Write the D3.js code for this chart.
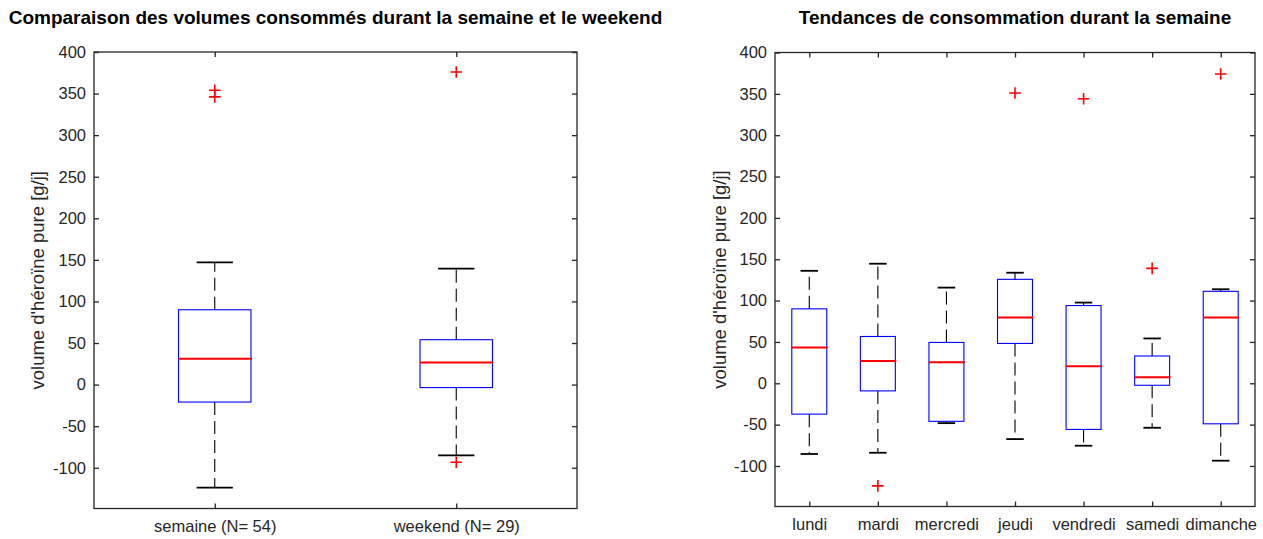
<!doctype html>
<html>
<head>
<meta charset="utf-8">
<title>Boxplots héroïne</title>
<script src="https://cdnjs.cloudflare.com/ajax/libs/d3/7.8.5/d3.min.js"></script>
<style>
  body { margin: 0; background: #fff; }
  svg text { font-family: "Liberation Sans", Arial, sans-serif; fill: #262626; }
</style>
</head>
<body>
<div id="chart"></div>
<script>
// --- data (g/j) ---
const periodLabels = ["semaine (N= 54)", "weekend (N= 29)"];
const periodUpper  = [147, 139.5];
const periodQ3     = [90, 54];
const periodMedian = [31, 26.5];
const periodQ1     = [-21, -3.6];
const periodLower  = [-124, -85];
const periodOutliers = [[354, 346], [376, -93.4]];

const dayLabels = ["lundi", "mardi", "mercredi", "jeudi", "vendredi", "samedi", "dimanche"];
const dayUpper  = [136, 144.6, 115.7, 133.7, 97.6, 54.2, 113.7];
const dayQ3     = [90, 56.6, 49.4, 125.7, 94, 33, 111.2];
const dayMedian = [43.4, 26.9, 25.3, 79.5, 20.5, 7.2, 79.5];
const dayQ1     = [-37.3, -9.2, -46, 48.2, -55.8, -2.4, -49];
const dayLower  = [-85.5, -84, -48.2, -67.5, -75.5, -53.8, -93.6];
const dayOutliers = [[], [-124], [], [351], [344], [139], [374]];

const yTicks = [-100, -50, 0, 50, 100, 150, 200, 250, 300, 350, 400];
const yDomain = [-149, 400];
const yLabel = "volume d'héroïne pure [g/j]";

const svg = d3.select("#chart").append("svg")
  .attr("width", 1263).attr("height", 539);

function panel(opts) {
  const { left, right, top, bottom, labels, upper, q3, med, q1, lower, outliers, boxFrac, title, ylabX } = opts;
  const n = labels.length;
  const x = d3.scaleLinear().domain([0.5, n + 0.5]).range([left, right]);
  const y = d3.scaleLinear().domain(yDomain).range([bottom, top]);
  const step = x(2) - x(1);
  const bw = step * boxFrac;
  const g = svg.append("g");
  const rows = labels.map((l, i) => ({ l, i, up: upper[i], q3: q3[i], med: med[i], q1: q1[i], lo: lower[i], out: outliers[i] }));

  // axes ticks (inward, all four sides)
  const tl = 5;
  g.append("g").attr("transform", `translate(${left},0)`)
    .call(d3.axisLeft(y).tickValues(yTicks).tickSizeInner(-tl).tickSizeOuter(0).tickPadding(8)
      .tickFormat(d => String(d)))
    .call(a => a.select(".domain").remove())
    .call(a => a.selectAll("text").style("font-size", "16.5px").attr("fill", "#262626"))
    .call(a => a.selectAll("line").attr("stroke", "#262626").attr("stroke-width", 1.3));
  g.append("g").attr("transform", `translate(${right},0)`)
    .call(d3.axisRight(y).tickValues(yTicks).tickSizeInner(-tl).tickSizeOuter(0).tickFormat(""))
    .call(a => a.select(".domain").remove())
    .call(a => a.selectAll("line").attr("stroke", "#262626").attr("stroke-width", 1.3));
  g.append("g").attr("transform", `translate(0,${bottom})`)
    .call(d3.axisBottom(x).tickValues(d3.range(1, n + 1)).tickSizeInner(-tl).tickSizeOuter(0)
      .tickPadding(12).tickFormat(i => labels[i - 1]))
    .call(a => a.select(".domain").remove())
    .call(a => a.selectAll("text").style("font-size", "16.5px").attr("fill", "#262626"))
    .call(a => a.selectAll("line").attr("stroke", "#262626").attr("stroke-width", 1.3));
  g.append("g").attr("transform", `translate(0,${top})`)
    .call(d3.axisTop(x).tickValues(d3.range(1, n + 1)).tickSizeInner(-tl).tickSizeOuter(0).tickFormat(""))
    .call(a => a.select(".domain").remove())
    .call(a => a.selectAll("line").attr("stroke", "#262626").attr("stroke-width", 1.3));

  g.append("rect").attr("x", left).attr("y", top)
    .attr("width", right - left).attr("height", bottom - top)
    .attr("fill", "none").attr("stroke", "#262626").attr("stroke-width", 1.3);

  const b = g.selectAll(".bx").data(rows).join("g").attr("class", "bx");
  // whiskers
  b.append("line").attr("x1", d => x(d.i + 1)).attr("x2", d => x(d.i + 1))
    .attr("y1", d => y(d.q3)).attr("y2", d => y(d.up))
    .attr("stroke", "#000").attr("stroke-width", 1.1).attr("stroke-dasharray", "13,6");
  b.append("line").attr("x1", d => x(d.i + 1)).attr("x2", d => x(d.i + 1))
    .attr("y1", d => y(d.q1)).attr("y2", d => y(d.lo))
    .attr("stroke", "#000").attr("stroke-width", 1.1).attr("stroke-dasharray", "13,6");
  // caps
  ["up", "lo"].forEach(k => {
    b.append("line").attr("x1", d => x(d.i + 1) - bw / 4).attr("x2", d => x(d.i + 1) + bw / 4)
      .attr("y1", d => y(d[k])).attr("y2", d => y(d[k]))
      .attr("stroke", "#000").attr("stroke-width", 1.8);
  });
  // box
  b.append("rect").attr("x", d => x(d.i + 1) - bw / 2).attr("width", bw)
    .attr("y", d => y(d.q3)).attr("height", d => y(d.q1) - y(d.q3))
    .attr("fill", "none").attr("stroke", "#0000ff").attr("stroke-width", 1.1);
  // median
  b.append("line").attr("x1", d => x(d.i + 1) - bw / 2).attr("x2", d => x(d.i + 1) + bw / 2 + 1)
    .attr("y1", d => y(d.med)).attr("y2", d => y(d.med))
    .attr("stroke", "#ff0000").attr("stroke-width", 2);
  // outliers
  const ms = 5.8;
  b.selectAll(".out").data(d => d.out.map(v => ({ i: d.i, v }))).join("path")
    .attr("d", p => `M${x(p.i + 1) - ms},${y(p.v)}H${x(p.i + 1) + ms}M${x(p.i + 1)},${y(p.v) - ms}V${y(p.v) + ms}`)
    .attr("stroke", "#ff0000").attr("stroke-width", 1.6).attr("fill", "none");

  svg.append("text").attr("x", (left + right) / 2).attr("y", 24)
    .attr("text-anchor", "middle").style("font-size", "19px").style("font-weight", "bold")
    .style("fill", "#000").text(title);
  svg.append("text").attr("transform", `translate(${ylabX},${(top + bottom) / 2}) rotate(-90)`)
    .attr("text-anchor", "middle").style("font-size", "18.5px").text(yLabel);
}

panel({
  left: 94, right: 577, top: 52, bottom: 508.5,
  labels: periodLabels, upper: periodUpper, q3: periodQ3, med: periodMedian,
  q1: periodQ1, lower: periodLower, outliers: periodOutliers, boxFrac: 0.3,
  title: "Comparaison des volumes consommés durant la semaine et le weekend", ylabX: 44
});
panel({
  left: 775, right: 1255, top: 52.5, bottom: 506.5,
  labels: dayLabels, upper: dayUpper, q3: dayQ3, med: dayMedian,
  q1: dayQ1, lower: dayLower, outliers: dayOutliers, boxFrac: 0.51,
  title: "Tendances de consommation durant la semaine", ylabX: 726
});
</script>
</body>
</html>
